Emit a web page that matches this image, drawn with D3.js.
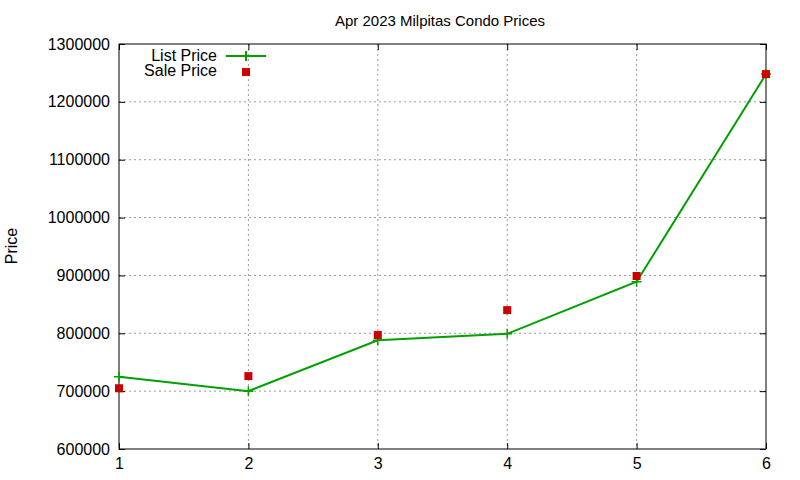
<!DOCTYPE html><html><head><script src="https://cdn.jsdelivr.net/npm/d3@7"></script>
<style>body{margin:0;background:#fff}text{font-family:"Liberation Sans",Arial,sans-serif}</style></head><body>
<svg id="c" width="800" height="480"></svg>
<script>
const xs=[1,2,3,4,5,6];
const listPrice=[725000,700000,788000,799000,889000,1248000];
const salePrice=[705000,726000,797000,840000,899000,1248000];
const yTicks=[600000,700000,800000,900000,1000000,1100000,1200000,1300000];
const svg=d3.select("#c");
const m={l:119,r:766,t:44,b:449};
const x=d3.scaleLinear().domain([1,6]).range([m.l,m.r]);
const y=d3.scaleLinear().domain([600000,1300000]).range([m.b,m.t]);
const g=svg.append("g");
xs.slice(1,-1).forEach(v=>g.append("line").attr("x1",x(v)).attr("x2",x(v)).attr("y1",m.t).attr("y2",m.b).attr("stroke","#999").attr("stroke-dasharray","2,3"));
yTicks.slice(1,-1).forEach(v=>g.append("line").attr("x1",m.l).attr("x2",m.r).attr("y1",y(v)).attr("y2",y(v)).attr("stroke","#999").attr("stroke-dasharray","2,3"));
svg.append("rect").attr("x",m.l).attr("y",m.t).attr("width",m.r-m.l).attr("height",m.b-m.t).attr("fill","none").attr("stroke","#000");
svg.append("g").attr("transform",`translate(0,${m.b})`).call(d3.axisBottom(x).tickValues(xs).tickFormat(d3.format("d")).tickSize(-6).tickPadding(9)).call(a=>{a.select(".domain").remove();a.selectAll("text").attr("font-size",16).attr("font-family","Liberation Sans")});
svg.append("g").attr("transform",`translate(${m.l},0)`).call(d3.axisLeft(y).tickValues(yTicks).tickFormat(d3.format("d")).tickSize(-6).tickPadding(9)).call(a=>{a.select(".domain").remove();a.selectAll("text").attr("font-size",16).attr("font-family","Liberation Sans")});
svg.append("g").attr("transform",`translate(${m.r},0)`).call(d3.axisRight(y).tickValues(yTicks).tickFormat("").tickSize(-6)).select(".domain").remove();
svg.append("g").attr("transform",`translate(0,${m.t})`).call(d3.axisTop(x).tickValues(xs).tickFormat("").tickSize(-6)).select(".domain").remove();
svg.append("text").attr("x",440).attr("y",26).attr("text-anchor","middle").attr("font-size",15).text("Apr 2023 Milpitas Condo Prices");
svg.append("text").attr("transform","translate(17,246) rotate(-90)").attr("text-anchor","middle").attr("font-size",16).text("Price");
const line=d3.line().x((d,i)=>x(xs[i])).y(d=>y(d));
svg.append("path").attr("d",line(listPrice)).attr("fill","none").attr("stroke","#00a000").attr("stroke-width",2);
listPrice.forEach((d,i)=>svg.append("path").attr("d",`M${x(xs[i])-5},${y(d)}h10M${x(xs[i])},${y(d)-5}v10`).attr("stroke","#00a000").attr("stroke-width",1.5));
salePrice.forEach((d,i)=>svg.append("rect").attr("x",x(xs[i])-4).attr("y",y(d)-4).attr("width",8).attr("height",8).attr("fill","#cc0000"));
svg.append("text").attr("x",217).attr("y",61).attr("text-anchor","end").attr("font-size",16).text("List Price");
svg.append("path").attr("d","M226,56h40M246,51v10").attr("stroke","#00a000").attr("stroke-width",2);
svg.append("text").attr("x",217).attr("y",76).attr("text-anchor","end").attr("font-size",16).text("Sale Price");
svg.append("rect").attr("x",242).attr("y",68).attr("width",8).attr("height",8).attr("fill","#cc0000");
</script></body></html>
